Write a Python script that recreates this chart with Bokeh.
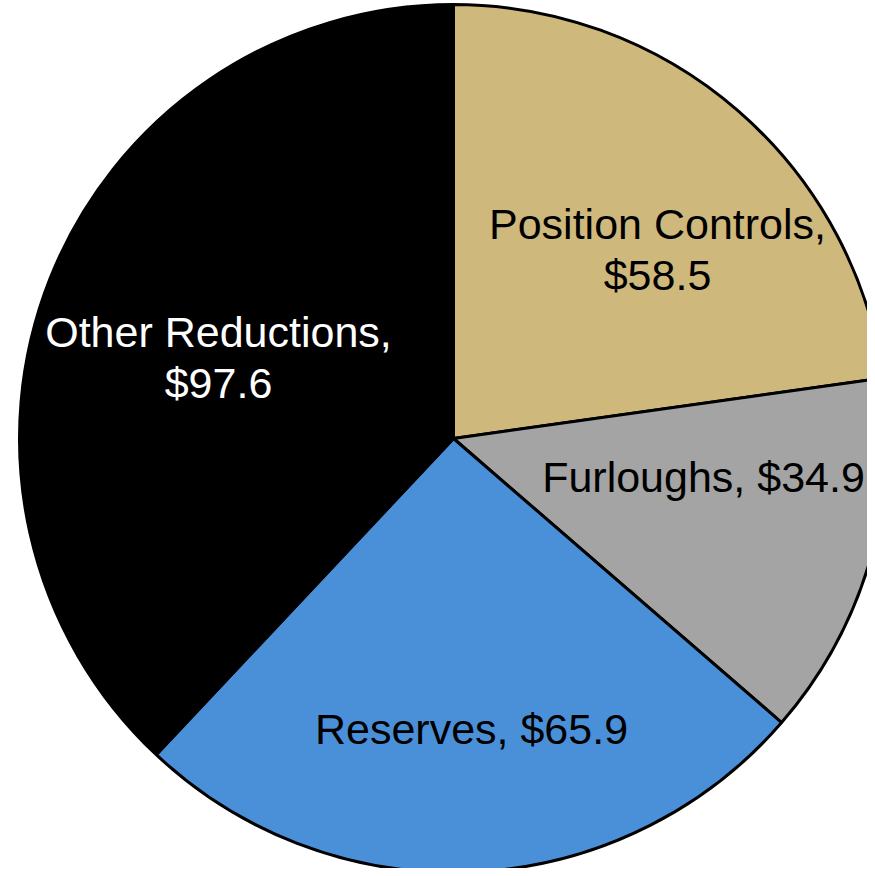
import math
from bokeh.plotting import figure
from bokeh.models import Range1d, ColumnDataSource
from bokeh.core.properties import value
from bokeh.embed import file_html
from bokeh.resources import INLINE

# ---- data ----
categories = ["Position Controls", "Furloughs", "Reserves", "Other Reductions"]
amounts = [58.5, 34.9, 65.9, 97.6]
colors = ["#CFB87C", "#A3A4A3", "#4A90D9", "#000000"]
text_colors = ["#000000", "#000000", "#000000", "#FFFFFF"]
label_lines = [
    ["Position Controls,", "$58.5"],
    ["Furloughs, $34.9"],
    ["Reserves, $65.9"],
    ["Other Reductions,", "$97.6"],
]

# ---- layout (pixels) ----
W, H = 867, 868
CX, CY, R = 453, 430, 434
FONT_PX = 43
LINE_GAP = 51
# label block anchor offsets from pie centre (first baseline), in px
label_offsets = {
    "Position Controls": (204, 215),
    "Furloughs": (250, -38),
    "Reserves": (18, -290),
    "Other Reductions": (-235, 107),
}

total = sum(amounts)
starts, ends = [], []
cum = 0.0
for a in amounts:
    starts.append(math.pi / 2 - 2 * math.pi * cum / total)
    cum += a
    ends.append(math.pi / 2 - 2 * math.pi * cum / total)

src = ColumnDataSource(dict(
    x=[CX] * len(amounts), y=[CY] * len(amounts),
    start=starts, end=ends, color=colors,
))

p = figure(width=W, height=H, output_backend="svg", toolbar_location=None,
           x_range=Range1d(0, W), y_range=Range1d(0, H),
           x_axis_type=None, y_axis_type=None, min_border=0)
p.outline_line_color = None
p.background_fill_color = "white"
p.border_fill_color = "white"

p.wedge(x="x", y="y", radius=R, start_angle="start", end_angle="end",
        direction="clock", fill_color="color", line_color="black",
        line_width=3, source=src)

tx, ty, tt, tc = [], [], [], []
for cat, lines, col in zip(categories, label_lines, text_colors):
    dx, dy = label_offsets[cat]
    for i, ln in enumerate(lines):
        tx.append(CX + dx)
        ty.append(CY + dy - i * LINE_GAP)
        tt.append(ln)
        tc.append(col)

p.text(x=tx, y=ty, text=tt, text_color=tc, text_align="center",
       text_baseline="alphabetic", text_font=value("Liberation Sans"),
       text_font_size=f"{FONT_PX}px")

open("out.html", "w").write(file_html(p, INLINE))
